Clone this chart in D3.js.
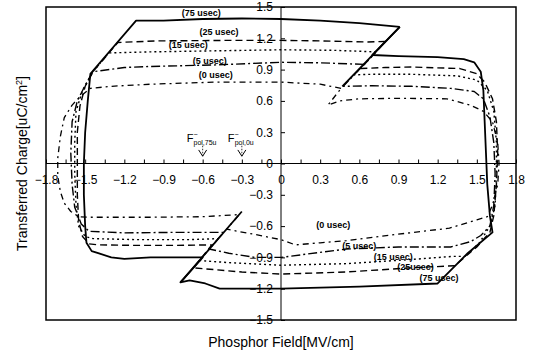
<!DOCTYPE html>
<html>
<head>
<meta charset="utf-8">
<script src="https://cdn.jsdelivr.net/npm/d3@7/dist/d3.min.js"></script>
<style>
  body { margin: 0; background: #fff; }
  svg { display: block; font-family: "Liberation Sans", Arial, sans-serif; }
</style>
</head>
<body>
<div id="chart"></div>
<script>
// Các vòng Q-F theo thời gian trễ (field MV/cm, charge uC/cm2)
const loop75us = [
  [0.91, 1.31], [0.6, 1.345], [0.3, 1.37], [0, 1.385], [-0.3, 1.39], [-0.6, 1.385], [-0.9, 1.37], [-1.11, 1.37],
  [-1.46, 0.86], [-1.48, 0.6], [-1.5, 0.3], [-1.51, 0], [-1.51, -0.3], [-1.5, -0.6], [-1.49, -0.76], [-1.45, -0.84],
  [-1.4, -0.86], [-1.3, -0.9], [-1.2, -0.915], [-1.0, -0.9], [-0.8, -0.9], [-0.6, -0.9],
  [-0.77, -1.14], [-0.7, -1.12], [-0.58, -1.15], [-0.47, -1.2], [0, -1.2], [0.6, -1.18], [1.2, -1.15],
  [1.43, -0.86], [1.62, -0.66], [1.6, -0.5], [1.58, -0.2], [1.57, 0.1], [1.56, 0.4], [1.55, 0.7], [1.53, 0.88],
  [1.48, 0.97], [1.4, 1.0], [1.2, 1.02], [0.9, 1.03], [0.7, 1.04], [0.91, 1.31]
];
const loop25us = [
  [0.8, 1.17], [0.66, 1.165], [0.3, 1.175], [0, 1.18], [-0.4, 1.18], [-0.95, 1.175], [-1.25, 1.16],
  [-1.44, 0.88], [-1.5, 0.74], [-1.54, 0.55], [-1.56, 0.3], [-1.56, 0], [-1.56, -0.3], [-1.55, -0.55], [-1.52, -0.7],
  [-1.47, -0.77], [-1.4, -0.78], [-1.1, -0.785], [-0.8, -0.785], [-0.53, -0.78],
  [-0.67, -1.0], [-0.3, -1.04], [0, -1.06], [0.5, -1.04], [1.0, -1.0], [1.16, -0.99], [1.33, -0.98],
  [1.5, -0.8], [1.6, -0.66], [1.63, -0.5], [1.65, -0.2], [1.66, 0.1], [1.65, 0.4], [1.62, 0.62], [1.56, 0.78],
  [1.5, 0.86], [1.37, 0.91], [1.0, 0.925], [0.8, 0.92], [0.61, 0.91], [0.8, 1.17]
];
const loop15us = [
  [0.73, 1.07], [0.4, 1.085], [0, 1.09], [-0.5, 1.08], [-1.0, 1.07], [-1.32, 1.06],
  [-1.44, 0.88], [-1.52, 0.7], [-1.57, 0.5], [-1.58, 0.2], [-1.58, -0.1], [-1.57, -0.4], [-1.55, -0.6], [-1.5, -0.7],
  [-1.44, -0.72], [-1.1, -0.73], [-0.7, -0.73], [-0.48, -0.72],
  [-0.625, -0.93], [-0.4, -0.95], [0, -0.975], [0.5, -0.96], [1.0, -0.92], [1.32, -0.89], [1.41, -0.89],
  [1.52, -0.76], [1.6, -0.6], [1.64, -0.4], [1.65, -0.1], [1.65, 0.2], [1.63, 0.5], [1.58, 0.7], [1.5, 0.8],
  [1.35, 0.84], [1.0, 0.855], [0.7, 0.855], [0.56, 0.85], [0.73, 1.07]
];
const loop5us = [
  [0.636, 0.95], [0.3, 0.965], [0, 0.97], [-0.5, 0.945], [-1.0, 0.93], [-1.2, 0.92], [-1.44, 0.88],
  [-1.5, 0.75], [-1.56, 0.6], [-1.6, 0.4], [-1.61, 0.1], [-1.6, -0.2], [-1.58, -0.42], [-1.53, -0.58],
  [-1.47, -0.65], [-1.2, -0.665], [-0.8, -0.66], [-0.44, -0.66],
  [-0.55, -0.82], [-0.4, -0.86], [-0.2, -0.9], [0, -0.9], [0.5, -0.82], [0.9, -0.8], [1.3, -0.8], [1.45, -0.75],
  [1.53, -0.69], [1.6, -0.6], [1.63, -0.4], [1.64, -0.1], [1.63, 0.2], [1.6, 0.45], [1.55, 0.62], [1.48, 0.69],
  [1.3, 0.72], [1.0, 0.74], [0.7, 0.745], [0.477, 0.74], [0.636, 0.95]
];
const loop0us = [
  [0.46, 0.72], [0.3, 0.76], [0, 0.78], [-0.5, 0.78], [-1.0, 0.76], [-1.3, 0.74], [-1.46, 0.72],
  [-1.54, 0.64], [-1.6, 0.56], [-1.66, 0.44], [-1.69, 0.26], [-1.71, 0.05], [-1.71, -0.12], [-1.69, -0.27],
  [-1.66, -0.38], [-1.61, -0.46], [-1.55, -0.51], [-1.45, -0.515], [-1.0, -0.515], [-0.6, -0.51], [-0.32, -0.49],
  [-0.417, -0.63], [-0.2, -0.68], [0, -0.73], [0.11, -0.78], [0.3, -0.76], [0.5, -0.74], [0.88, -0.68],
  [1.29, -0.62], [1.5, -0.54], [1.58, -0.51], [1.62, -0.4], [1.66, -0.2], [1.67, 0], [1.66, 0.2], [1.62, 0.4],
  [1.55, 0.5], [1.45, 0.56], [1.27, 0.62], [0.9, 0.625], [0.6, 0.62], [0.45, 0.6], [0.36, 0.56], [0.46, 0.72]
];

// Đoạn chuyển tiếp (nét liền)
const jumpLines = [
  [[0.47, 0.74], [0.91, 1.31]],
  [[-0.3, -0.46], [-0.77, -1.14]]
];

const seriesNames = ["75 usec", "25 usec", "15 usec", "5 usec", "0 usec"];
const bottomNames = ["75 usec", "25usec", "15 usec", "5 usec", "0 usec"];
const xLabelTicks = [-1.8, -1.5, -1.2, -0.9, -0.6, -0.3, 0, 0.3, 0.6, 0.9, 1.2, 1.5, 1.8];
const xMinorTicks = [-1.65, -1.35, -1.05, -0.75, -0.45, -0.15, 0.15, 0.45, 0.75, 1.05, 1.35, 1.65];
const yLabelTicks = [-1.5, -1.2, -0.9, -0.6, -0.3, 0, 0.3, 0.6, 0.9, 1.2, 1.5];
const arrowFields = [-0.6, -0.3];

// Kích thước
const width = 536, height = 351;
const box = { left: 46, top: 7, right: 516, bottom: 320 };

const svg = d3.select("#chart").append("svg")
  .attr("width", width)
  .attr("height", height);

const x = d3.scaleLinear().domain([-1.8, 1.8]).range([box.left, box.right]);
const y = d3.scaleLinear().domain([-1.5, 1.5]).range([box.bottom, box.top]);

// Khung
svg.append("rect")
  .attr("x", box.left).attr("y", box.top)
  .attr("width", box.right - box.left).attr("height", box.bottom - box.top)
  .attr("fill", "none").attr("stroke", "#000").attr("stroke-width", 1.5);

// Trục X (qua y=0)
const fmt = d => d === 0 ? "0" : d3.format(".1f")(d);
const xAxis = svg.append("g")
  .attr("transform", `translate(0,${y(0)})`)
  .call(d3.axisBottom(x)
    .tickValues(xLabelTicks.concat(xMinorTicks))
    .tickSize(-4)
    .tickPadding(12)
    .tickFormat(d => xLabelTicks.includes(d) ? fmt(d) : ""));
xAxis.select(".domain").remove();
xAxis.selectAll("text").style("font-size", "12px").attr("font-family", null);

// Trục Y (qua x=0)
const yAxis = svg.append("g")
  .attr("transform", `translate(${x(0)},0)`)
  .call(d3.axisLeft(y)
    .tickValues(yLabelTicks)
    .tickSize(-4)
    .tickPadding(8)
    .tickFormat(fmt));
yAxis.select(".domain").remove();
yAxis.selectAll("text").style("font-size", "12px").attr("font-family", null);

svg.append("line")
  .attr("x1", box.left).attr("x2", box.right)
  .attr("y1", y(0)).attr("y2", y(0))
  .attr("stroke", "#000").attr("stroke-width", 1.2);
svg.append("line")
  .attr("x1", x(0)).attr("x2", x(0))
  .attr("y1", box.top).attr("y2", box.bottom)
  .attr("stroke", "#000").attr("stroke-width", 1);

// Các đường
const series = [
  { name: "75 usec", points: loop75us, dash: null, w: 1.8 },
  { name: "25 usec", points: loop25us, dash: "7,4", w: 1.4 },
  { name: "15 usec", points: loop15us, dash: "2,3", w: 1.4 },
  { name: "5 usec", points: loop5us, dash: "9,3,2,3", w: 1.4 },
  { name: "0 usec", points: loop0us, dash: "6,4,2,4", w: 1.3 }
];

const line = d3.line().x(d => x(d[0])).y(d => y(d[1]));

svg.selectAll(".loop")
  .data(series)
  .enter()
  .append("path")
  .attr("class", "loop")
  .attr("d", d => line(d.points))
  .attr("fill", "none")
  .attr("stroke", "#000")
  .attr("stroke-width", d => d.w)
  .attr("stroke-dasharray", d => d.dash)
  .attr("stroke-linejoin", "round");

svg.selectAll(".jump")
  .data(jumpLines)
  .enter()
  .append("path")
  .attr("class", "jump")
  .attr("d", d => line(d))
  .attr("fill", "none")
  .attr("stroke", "#000")
  .attr("stroke-width", 1.8);

// Nhãn các đường
const topSpots = [[-0.61, 1.414], [-0.475, 1.232], [-0.71, 1.107], [-0.545, 0.954], [-0.5, 0.82]];
const bottomSpots = [[1.21, -1.13], [1.03, -1.02], [0.86, -0.925], [0.6, -0.82], [0.4, -0.62]];

svg.selectAll(".lblTop")
  .data(seriesNames)
  .enter()
  .append("text")
  .attr("x", (d, i) => x(topSpots[i][0]))
  .attr("y", (d, i) => y(topSpots[i][1]))
  .attr("text-anchor", "middle")
  .style("font-size", "9px")
  .style("font-weight", "bold")
  .text(d => `(${d})`);

svg.selectAll(".lblBottom")
  .data(bottomNames)
  .enter()
  .append("text")
  .attr("x", (d, i) => x(bottomSpots[i][0]))
  .attr("y", (d, i) => y(bottomSpots[i][1]))
  .attr("text-anchor", "middle")
  .style("font-size", "9px")
  .style("font-weight", "bold")
  .text(d => `(${d})`);

// F-pol và mũi tên
const fLabels = ["pol,75u", "pol,0u"];
arrowFields.forEach((f, i) => {
  const t = svg.append("text")
    .attr("x", x(f) - 16 + (i === 1 ? 2 : 0))
    .attr("y", y(0.21))
    .style("font-size", "11px");
  t.append("tspan").text("F");
  t.append("tspan").attr("dy", -5).style("font-size", "7px").text("\u2212");
  t.append("tspan").attr("dy", 8).attr("dx", -4).style("font-size", "7px").text(fLabels[i]);

  svg.append("line")
    .attr("x1", x(f)).attr("x2", x(f))
    .attr("y1", y(0.17)).attr("y2", y(0.07))
    .attr("stroke", "#000").attr("stroke-width", 0.8)
    .attr("stroke-dasharray", "1.5,1.5");
  svg.append("path")
    .attr("d", `M${x(f) - 4},${y(0.13)} L${x(f)},${y(0.07)} L${x(f) + 4},${y(0.13)}`)
    .attr("fill", "none").attr("stroke", "#000").attr("stroke-width", 1);
});

// Tiêu đề trục
svg.append("text")
  .attr("transform", `translate(27,${y(0)}) rotate(-90)`)
  .attr("text-anchor", "middle")
  .style("font-size", "14px")
  .html('Transferred Charge[uC/cm<tspan dy="-5" font-size="9px">2</tspan><tspan dy="5">]</tspan>');

svg.append("text")
  .attr("x", x(0))
  .attr("y", 347)
  .attr("text-anchor", "middle")
  .style("font-size", "14px")
  .text("Phosphor Field[MV/cm]");
</script>
</body>
</html>
